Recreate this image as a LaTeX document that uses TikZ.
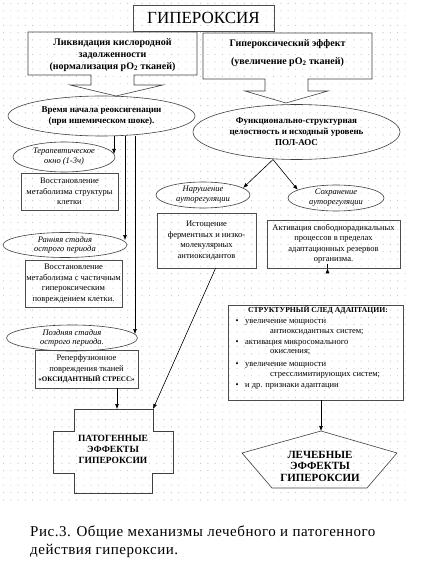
\documentclass[tikz,border=0pt]{standalone}
\usepackage{fontspec}
\setmainfont{Liberation Serif}
\newfontfamily\capfont{Liberation Serif}[LetterSpace=3.5]
\usetikzlibrary{arrows.meta,shapes.geometric,calc}
\begin{document}
\begin{tikzpicture}[x=1pt,y=-1pt,
  bx/.style={draw=black!70, line width=0.6pt, inner sep=0pt, align=center, font=\fontsize{8.5}{10.5}\selectfont},
  ell/.style={draw=black!75, ellipse, line width=0.6pt, inner sep=0pt, align=center},
  shp/.style={draw=black!75, line width=0.6pt},
  con/.style={draw=black, line width=0.6pt},
  arr/.style={con, -{Latex[length=5pt,width=4pt]}},
  bfa/.style={align=center, font=\fontsize{10}{12}\selectfont\bfseries},
  itl/.style={font=\fontsize{8.5}{9.8}\selectfont\itshape},
  dotbg/.style={fill=black!22}
]
\useasboundingbox (0,0) rectangle (425,569);
% dotted background
\fill[dotbg] \foreach \i in {0,...,55} {\foreach \j in {0,...,68} {(3+\i*7.3,3+\j*7.3) rectangle ++(0.9,0.9)}};

% title
\node[bx, minimum width=141pt, minimum height=26pt, font=\fontsize{17}{20}\selectfont] (title) at (203.5,18) {ГИПЕРОКСИЯ};

% left callout
\draw[shp] (28,32) -- (197,32) -- (197,75) -- (134,75) -- (134,85) -- (163,85) -- (116,96) -- (70,85) -- (91,85) -- (91,75) -- (28,75) -- cycle;
\node[bfa] (liq) at (112.5,55) {Ликвидация кислородной\\задолженности\\(нормализация pO\textsubscript{2} тканей)};

% right callout
\draw[shp] (203,33) -- (372,33) -- (372,79) -- (308,79) -- (308,91) -- (328,91) -- (286,103) -- (245,91) -- (265,91) -- (265,79) -- (203,79) -- cycle;
\node[bfa] (hyp) at (287.5,53) {Гипероксический эффект\\[6pt](увеличение pO\textsubscript{2} тканей)};

% ellipses
\node[ell, minimum width=187pt, minimum height=40pt, font=\fontsize{9}{10.5}\selectfont\bfseries] (e1) at (101.5,116) {Время начала реоксигенации\\(при ишемическом шоке).};
\node[ell, minimum width=207pt, minimum height=55pt, font=\fontsize{9}{11}\selectfont\bfseries] (e2) at (296.5,132) {Функционально-структурная\\целостность и исходный уровень\\ПОЛ-АОС};

\node[ell, itl, minimum width=102pt, minimum height=30pt] (t1) at (64,157) {Терапевтическое\\окно (1-3ч)};
\node[ell, itl, minimum width=124pt, minimum height=25pt] (t2) at (65,245) {Ранняя стадия\\острого периода};
\node[ell, itl, minimum width=131pt, minimum height=26pt] (t3) at (72,338) {Поздняя стадия\\острого периода.};

\node[ell, itl, minimum width=94pt, minimum height=26pt] (n1) at (203,195) {Нарушение\\ауторегуляции};
\node[ell, itl, minimum width=96pt, minimum height=26pt] (n2) at (336,198) {Сохранение\\ауторегуляции};

% boxes
\node[bx, minimum width=97pt, minimum height=37pt] (b1) at (69.5,191.5) {Восстановление\\метаболизма структуры\\клетки};
\node[bx, minimum width=97pt, minimum height=47pt] (b2) at (73.5,283.5) {Восстановление\\метаболизма с частичным\\гипероксическим\\повреждением клетки.};
\node[bx, minimum width=103pt, minimum height=38pt] (b3) at (86.5,369) {Реперфузионное\\повреждения тканей\\{\fontsize{7}{9}\selectfont\bfseries «ОКСИДАНТНЫЙ СТРЕСС»}};
\node[bx, minimum width=99pt, minimum height=55pt] (b4) at (206.5,240.5) {Истощение\\ферментных и низко-\\молекулярных\\антиоксидантов};
\node[bx, minimum width=133pt, minimum height=48pt] (b5) at (333.5,244) {Активация свободнорадикальных\\процессов в пределах\\адаптационных резервов\\организма.};

% structural trace box
\node[bx, minimum width=175pt, minimum height=95pt] (st) at (315.5,352.5) {};
\begin{scope}[every node/.style={inner sep=0pt, font=\fontsize{8.5}{10}\selectfont}]
\node[font=\fontsize{7.7}{9}\selectfont\bfseries] (sth) at (318,310) {СТРУКТУРНЫЙ СЛЕД АДАПТАЦИИ:};
\node (k1) at (237,322) {•};
\node[anchor=west] (s1) at (245,322) {увеличение мощности};
\node[anchor=west] (s2) at (270,332) {антиоксидантных систем;};
\node (k2) at (237,343) {•};
\node[anchor=west] (s3) at (245,343) {активация микросомального};
\node[anchor=west] (s4) at (270,352.5) {окисления;};
\node (k3) at (237,365) {•};
\node[anchor=west] (s5) at (245,365) {увеличение мощности};
\node[anchor=west] (s6) at (270,375.5) {стресслимитирующих систем;};
\node (k4) at (237,386) {•};
\node[anchor=west] (s7) at (245,386) {и др. признаки адаптации};
\end{scope}

% pathogenic cross shape
\draw[shp] (74,409) -- (153,409) -- (153,431) -- (173,431) -- (173,473) -- (152,473) -- (152,493) -- (74,493) -- (74,473) -- (53,473) -- (53,431) -- (74,431) -- cycle;
\node[align=center, font=\fontsize{9.5}{11}\selectfont\bfseries] (pat) at (113,449) {ПАТОГЕННЫЕ\\ЭФФЕКТЫ\\ГИПЕРОКСИИ};
\coordinate (patTop) at (117,409);
\coordinate (patTR) at (153,409);

% therapeutic pentagon
\draw[shp] (321,431) -- (397,453) -- (367,488) -- (272,488) -- (242,453) -- cycle;
\node[align=center, font=\fontsize{11}{11.5}\selectfont\bfseries] (lech) at (320,466) {ЛЕЧЕБНЫЕ\\ЭФФЕКТЫ\\ГИПЕРОКСИИ};
\coordinate (pentTop) at (321,431);

% connectors
\coordinate (a1) at (114,154);
\coordinate (a2) at (125,240);
\coordinate (a3) at (135,334);
\draw[arr] (e1.south -| a1) -- (a1);
\draw[arr] (e1.south -| a2) -- (a2);
\draw[arr] (e1.south -| a3) -- (a3);

\coordinate (e2b) at (273,159.5);
\draw[arr] (e2b) -- (n1.10);
\draw[arr] (e2b) -- (n2.168);

\draw[arr] (b4.-72) -- (patTR);
\draw[arr] (patTop |- b3.south) -- (patTop);
\draw[arr] ($(b5.south)+(-6,0)$) -- ($(b5.south)+(-6,0)$ |- st.north);
\draw[arr] (pentTop |- st.south) -- (pentTop);

% caption
\node[anchor=west, inner sep=0pt, align=left, font=\capfont\fontsize{15}{18}\selectfont] (cap) at (30,542) {Рис.3. Общие механизмы лечебного и патогенного\\действия гипероксии.};
\end{tikzpicture}
\end{document}
